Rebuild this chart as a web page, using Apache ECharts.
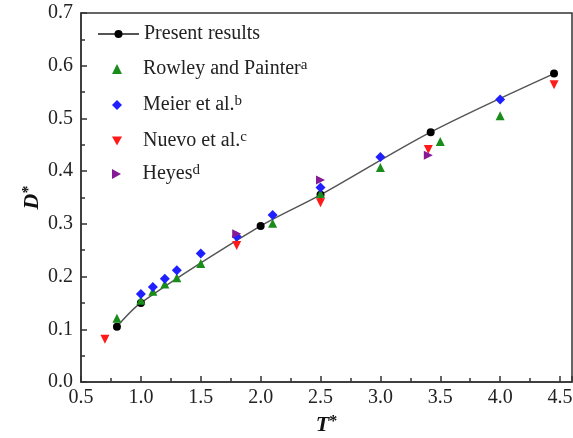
<!DOCTYPE html>
<html>
<head>
<meta charset="utf-8">
<script src="https://cdn.jsdelivr.net/npm/echarts@6/dist/echarts.min.js"></script>
<style>
  html, body { margin: 0; padding: 0; background: #fff; }
  #chart { width: 573px; height: 438px; }
</style>
</head>
<body>
<div id="chart"></div>
<script>
// T* values and D* values
const presentT = [0.8, 1.0, 2.0, 2.5, 3.42, 4.45];
const presentD = [0.105, 0.150, 0.296, 0.355, 0.474, 0.585];

const rowleyT = [0.8, 1.0, 1.1, 1.2, 1.3, 1.5, 2.1, 2.5, 3.0, 3.5, 4.0];
const rowleyD = [0.121, 0.155, 0.172, 0.186, 0.198, 0.225, 0.301, 0.357, 0.407, 0.456, 0.505];

const meierT = [1.0, 1.1, 1.2, 1.3, 1.5, 1.8, 2.1, 2.5, 3.0, 4.0];
const meierD = [0.167, 0.180, 0.196, 0.212, 0.244, 0.276, 0.317, 0.369, 0.427, 0.536];

const nuevoT = [0.7, 1.8, 2.5, 3.4, 4.45];
const nuevoD = [0.081, 0.259, 0.340, 0.441, 0.564];

const heyesT = [1.8, 2.5, 3.4];
const heyesD = [0.281, 0.383, 0.430];

const xTicks = [0.5, 1.0, 1.5, 2.0, 2.5, 3.0, 3.5, 4.0, 4.5];
const yTicks = [0.0, 0.1, 0.2, 0.3, 0.4, 0.5, 0.6, 0.7];

const names = ['Present results', 'Rowley and Painter', 'Meier et al.', 'Nuevo et al.', 'Heyes'];
const sups = ['', 'a', 'b', 'c', 'd'];

const colors = ['#000', '#1a8c1a', '#1f1fff', '#ff1a1a', '#861a96'];
const downTri = 'path://M0,0 L10,0 L5,9 Z';
const rightTri = 'path://M0,0 L9,5 L0,10 Z';
const legendIcons = [undefined, 'triangle', 'diamond', downTri, rightTri];

function pairs(xs, ys) {
  return xs.map((x, i) => [x, ys[i]]);
}

const serif = 'Liberation Serif';
const chart = echarts.init(document.getElementById('chart'));

const legendText = {
  fontFamily: serif,
  fontSize: 20,
  color: '#222',
  lineHeight: 22,
  rich: {
    sup: { fontFamily: serif, fontSize: 15, lineHeight: 10, verticalAlign: 'top', color: '#222' }
  }
};

// one legend per entry so each row sits where it does in the figure
const legendTops = [23, 58, 94, 130, 163];
const legends = names.map((n, i) => {
  const isLine = i === 0;
  const item = { name: n };
  if (legendIcons[i]) item.icon = legendIcons[i];
  return {
    data: [item],
    orient: 'vertical',
    padding: 0,
    left: isLine ? 97 : 112,
    top: legendTops[i],
    itemWidth: isLine ? 41 : 10,
    itemHeight: 10,
    selectedMode: false,
    formatter: name => name + (sups[i] ? '{sup|' + sups[i] + '}' : ''),
    textStyle: Object.assign({}, legendText, { padding: isLine ? 0 : [0, 0, 0, 16] })
  };
});

const nameRich = {
  m: { fontFamily: serif, fontSize: 22, fontStyle: 'italic', fontWeight: 'bold', color: '#111' },
  s: { fontFamily: serif, fontSize: 16, fontWeight: 'bold', color: '#111', verticalAlign: 'top', lineHeight: 14 }
};
const lineCol = '#333';

const option = {
  animation: false,
  backgroundColor: '#fff',
  grid: {
    left: 81, right: 1, top: 13, bottom: 56,
    containLabel: false,
    outerBoundsMode: 'none',
    show: true, borderColor: lineCol, borderWidth: 1.5, backgroundColor: 'transparent'
  },
  legend: legends,
  xAxis: {
    type: 'value',
    min: 0.5, max: 4.6, interval: 0.5,
    name: '{m|T}{s|*}',
    nameLocation: 'middle',
    nameMoveOverlap: false,
    nameGap: 32,
    nameTextStyle: { rich: nameRich },
    axisLine: { onZero: false, lineStyle: { color: lineCol, width: 1.5 } },
    axisTick: { inside: true, length: 6, lineStyle: { color: lineCol, width: 1.5 } },
    minorTick: { show: true, splitNumber: 2, length: 4, lineStyle: { color: lineCol, width: 1.5 } },
    splitLine: { show: false },
    axisLabel: {
      margin: 6, fontFamily: serif, fontSize: 20, color: '#222',
      showMaxLabel: false,
      formatter: v => (xTicks.indexOf(v) >= 0 ? v.toFixed(1) : '')
    }
  },
  yAxis: {
    type: 'value',
    min: 0, max: 0.7, interval: 0.1,
    name: '{m|D}{s|*}',
    nameLocation: 'middle',
    nameMoveOverlap: false,
    nameRotate: 90,
    nameGap: 38,
    nameTextStyle: { rich: nameRich },
    axisLine: { onZero: false, lineStyle: { color: lineCol, width: 1.5 } },
    axisTick: { inside: true, length: 6, lineStyle: { color: lineCol, width: 1.5 } },
    minorTick: { show: true, splitNumber: 2, length: 4, lineStyle: { color: lineCol, width: 1.5 } },
    splitLine: { show: false },
    axisLabel: {
      margin: 8, fontFamily: serif, fontSize: 20, color: '#222',
      formatter: v => (yTicks.some(t => Math.abs(t - v) < 1e-9) ? v.toFixed(1) : '')
    }
  },
  series: [
    {
      name: names[0],
      type: 'line',
      smooth: 0.3,
      data: pairs(presentT, presentD),
      symbol: 'circle',
      symbolSize: 8,
      itemStyle: { color: colors[0] },
      lineStyle: { color: '#555', width: 1.5 },
      z: 2
    },
    {
      name: names[1],
      type: 'scatter',
      data: pairs(rowleyT, rowleyD),
      symbol: 'triangle',
      symbolSize: 9,
      itemStyle: { color: colors[1], opacity: 1 },
      z: 3
    },
    {
      name: names[2],
      type: 'scatter',
      data: pairs(meierT, meierD),
      symbol: 'diamond',
      symbolSize: 10,
      itemStyle: { color: colors[2], opacity: 1 },
      z: 4
    },
    {
      name: names[3],
      type: 'scatter',
      data: pairs(nuevoT, nuevoD),
      symbol: 'triangle',
      symbolRotate: 180,
      symbolSize: 9,
      itemStyle: { color: colors[3], opacity: 1 },
      z: 5
    },
    {
      name: names[4],
      type: 'scatter',
      data: pairs(heyesT, heyesD),
      symbol: 'triangle',
      symbolRotate: -90,
      symbolSize: 9,
      itemStyle: { color: colors[4], opacity: 1 },
      z: 6
    }
  ]
};

chart.setOption(option);
</script>
</body>
</html>
